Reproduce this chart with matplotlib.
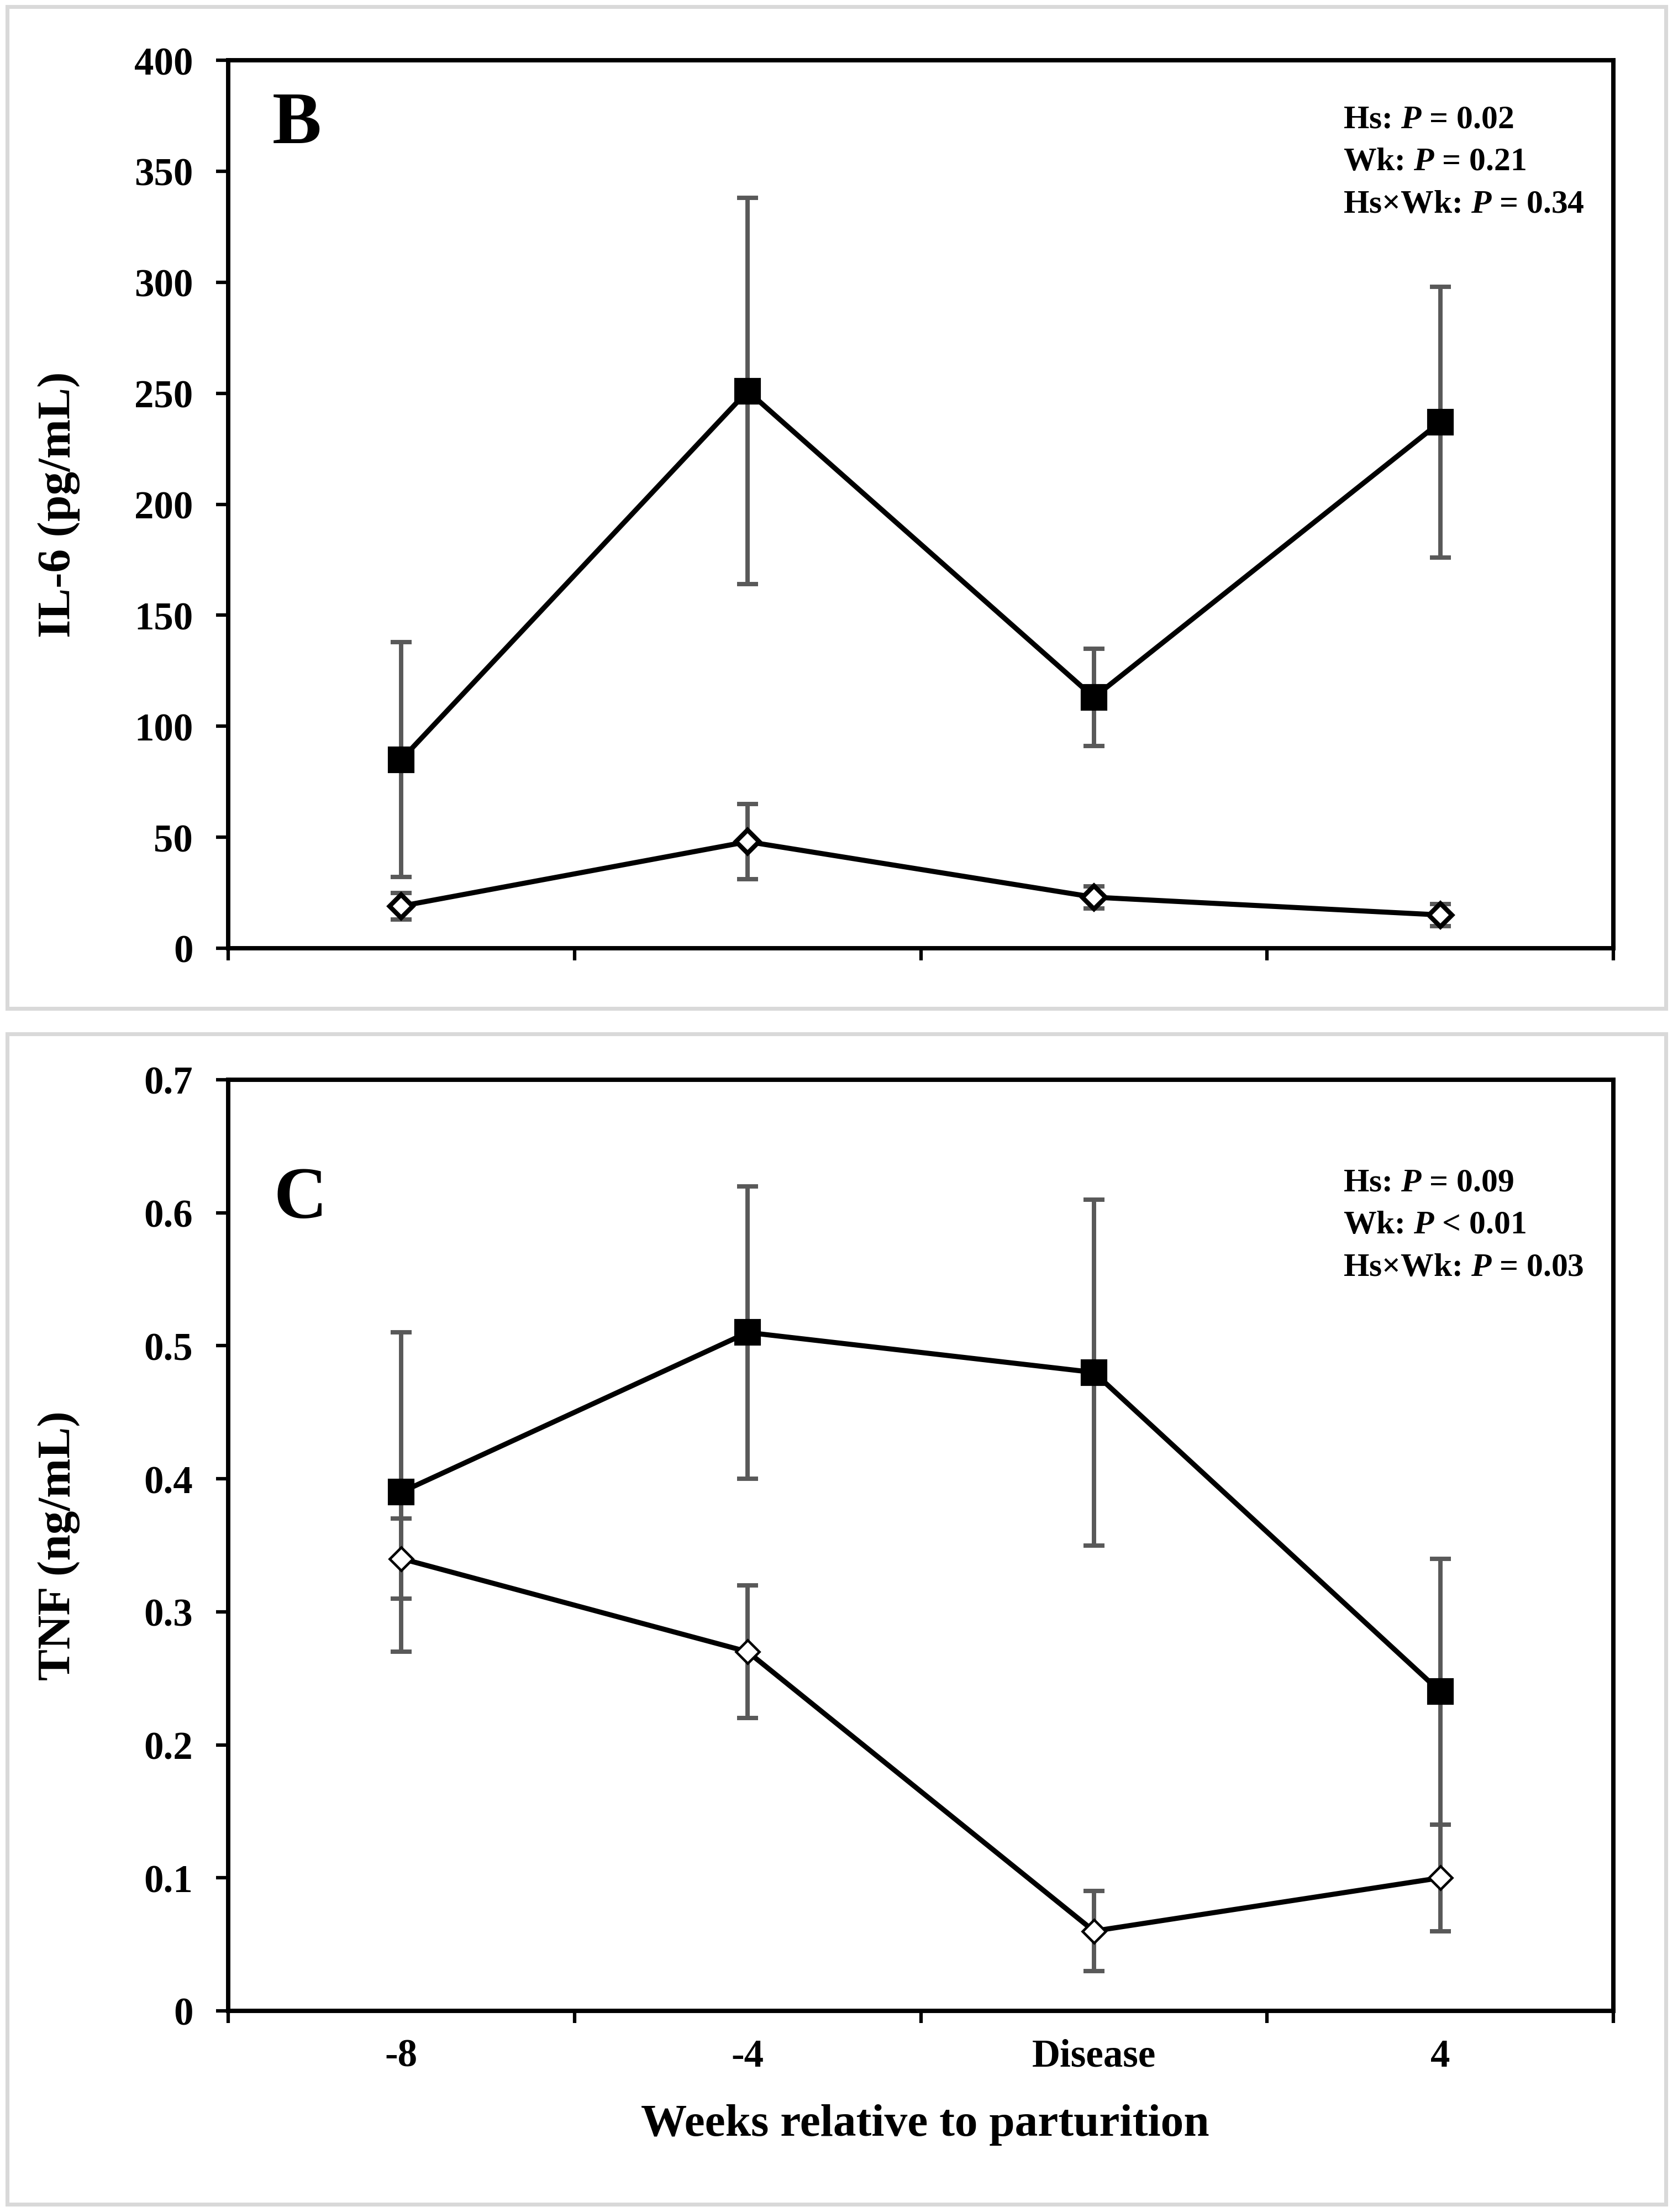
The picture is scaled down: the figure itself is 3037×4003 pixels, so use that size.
import matplotlib
matplotlib.use("Agg")
import matplotlib.pyplot as plt
from matplotlib.patches import Rectangle
import numpy as np

# ---------------- data ----------------
categories = ["-8", "-4", "Disease", "4"]

il6_hs = [85, 251, 113, 237]          # filled squares
il6_hs_err = [53, 87, 22, 61]
il6_ctrl = [19, 48, 23, 15]           # open diamonds
il6_ctrl_err = [6, 17, 5, 5]

tnf_hs = [0.39, 0.51, 0.48, 0.24]
tnf_hs_err = [0.12, 0.11, 0.13, 0.10]
tnf_ctrl = [0.34, 0.27, 0.06, 0.10]
tnf_ctrl_err = [0.03, 0.05, 0.03, 0.04]

il6_yticks = [0, 50, 100, 150, 200, 250, 300, 350, 400]
il6_yticklabels = ["0", "50", "100", "150", "200", "250", "300", "350", "400"]
tnf_yticks = [0, 0.1, 0.2, 0.3, 0.4, 0.5, 0.6, 0.7]
tnf_yticklabels = ["0", "0.1", "0.2", "0.3", "0.4", "0.5", "0.6", "0.7"]

il6_stats = ["Hs: $P$ = 0.02", "Wk: $P$ = 0.21", "Hs×Wk: $P$ = 0.34"]
tnf_stats = ["Hs: $P$ = 0.09", "Wk: $P$ < 0.01", "Hs×Wk: $P$ = 0.03"]

# ---------------- style ----------------
plt.rcParams["font.family"] = ["Liberation Serif", "DejaVu Serif"]
plt.rcParams["font.weight"] = "bold"
plt.rcParams["mathtext.fontset"] = "custom"
plt.rcParams["mathtext.it"] = "Liberation Serif:italic:bold"
plt.rcParams["mathtext.rm"] = "Liberation Serif:bold"
plt.rcParams["mathtext.bf"] = "Liberation Serif:bold"

W, H = 3037, 4004
fig = plt.figure(figsize=(W / 300, H / 300), dpi=300)
fig.patch.set_facecolor("white")

ERR_COLOR = "#595959"
TICK_FS = 17
STAT_FS = 14.3
LABEL_FS = 20.5


def px_box(x0, y0, x1, y1):
    return [x0 / W, 1 - y1 / H, (x1 - x0) / W, (y1 - y0) / H]


# panel frames
for (x0, y0, x1, y1) in [(13, 13, 3015, 1826), (13, 1872, 3015, 3990)]:
    fig.patches.append(Rectangle((x0 / W, 1 - y1 / H), (x1 - x0) / W, (y1 - y0) / H,
                                 transform=fig.transFigure, fill=False,
                                 edgecolor="#d9d9d9", linewidth=1.7, zorder=0))

ax1 = fig.add_axes(px_box(413, 110, 2920, 1717))
ax2 = fig.add_axes(px_box(413, 1955, 2920, 3640))

x = np.arange(len(categories))


def draw_panel(ax, hs, hs_err, ctrl, ctrl_err, dmew, dms):
    ax.errorbar(x, hs, yerr=hs_err, fmt="none", ecolor=ERR_COLOR,
                elinewidth=1.9, capsize=4.5, capthick=1.9, zorder=2)
    ax.errorbar(x, ctrl, yerr=ctrl_err, fmt="none", ecolor=ERR_COLOR,
                elinewidth=1.9, capsize=4.5, capthick=1.9, zorder=2)
    ax.plot(x, hs, color="black", lw=2.2, marker="s", ms=10.5,
            mfc="black", mec="black", zorder=4)
    ax.plot(x, ctrl, color="black", lw=2.2, marker="D", ms=dms,
            mfc="white", mec="black", mew=dmew, zorder=4)
    ax.set_xlim(-0.5, len(categories) - 0.5)
    # category boundaries as major ticks
    ax.set_xticks(np.arange(len(categories) + 1) - 0.5)
    ax.set_xticklabels([""] * (len(categories) + 1))
    for sp in ax.spines.values():
        sp.set_linewidth(1.9)
        sp.set_color("black")
    ax.tick_params(axis="both", direction="out", length=5.3, width=1.5,
                   colors="black", labelsize=TICK_FS)
    ax.tick_params(axis="y", pad=10)
    ax.tick_params(top=False, right=False)


draw_panel(ax1, il6_hs, il6_hs_err, il6_ctrl, il6_ctrl_err, 2.0, 7.2)
draw_panel(ax2, tnf_hs, tnf_hs_err, tnf_ctrl, tnf_ctrl_err, 1.1, 7.2)

ax1.set_ylim(0, 400)
ax1.set_yticks(il6_yticks)
ax1.set_yticklabels(il6_yticklabels, fontweight="bold")
ax2.set_ylim(0, 0.7)
ax2.set_yticks(tnf_yticks)
ax2.set_yticklabels(tnf_yticklabels, fontweight="bold")

# category labels on bottom panel (minor ticks, no tick marks)
ax2.set_xticks(x, minor=True)
ax2.set_xticklabels(categories, minor=True, fontsize=TICK_FS, fontweight="bold")
ax2.tick_params(axis="x", which="minor", length=0, pad=12)

ax1.set_ylabel("IL-6 (pg/mL)", fontsize=LABEL_FS, fontweight="bold")
ax2.set_ylabel("TNF (ng/mL)", fontsize=LABEL_FS, fontweight="bold")
ax1.yaxis.set_label_coords(-0.107, 0.5)
ax2.yaxis.set_label_coords(-0.107, 0.5)
ax2.set_xlabel("Weeks relative to parturition", fontsize=20, fontweight="bold")
ax2.xaxis.set_label_coords(0.503, -0.1)

# panel letters
ax1.text(0.032, 0.9073, "B", transform=ax1.transAxes, fontsize=32,
         fontweight="bold", ha="left", va="baseline")
ax2.text(0.033, 0.852, "C", transform=ax2.transAxes, fontsize=32,
         fontweight="bold", ha="left", va="baseline")

# statistics text
for i, s in enumerate(il6_stats):
    ax1.text(0.805, 0.9247 - i * 0.0479, s, transform=ax1.transAxes,
             fontsize=STAT_FS, fontweight="bold", ha="left", va="baseline")
for i, s in enumerate(tnf_stats):
    ax2.text(0.805, 0.8813 - i * 0.0457, s, transform=ax2.transAxes,
             fontsize=STAT_FS, fontweight="bold", ha="left", va="baseline")

fig.savefig("out.png", dpi=300, facecolor="white")
